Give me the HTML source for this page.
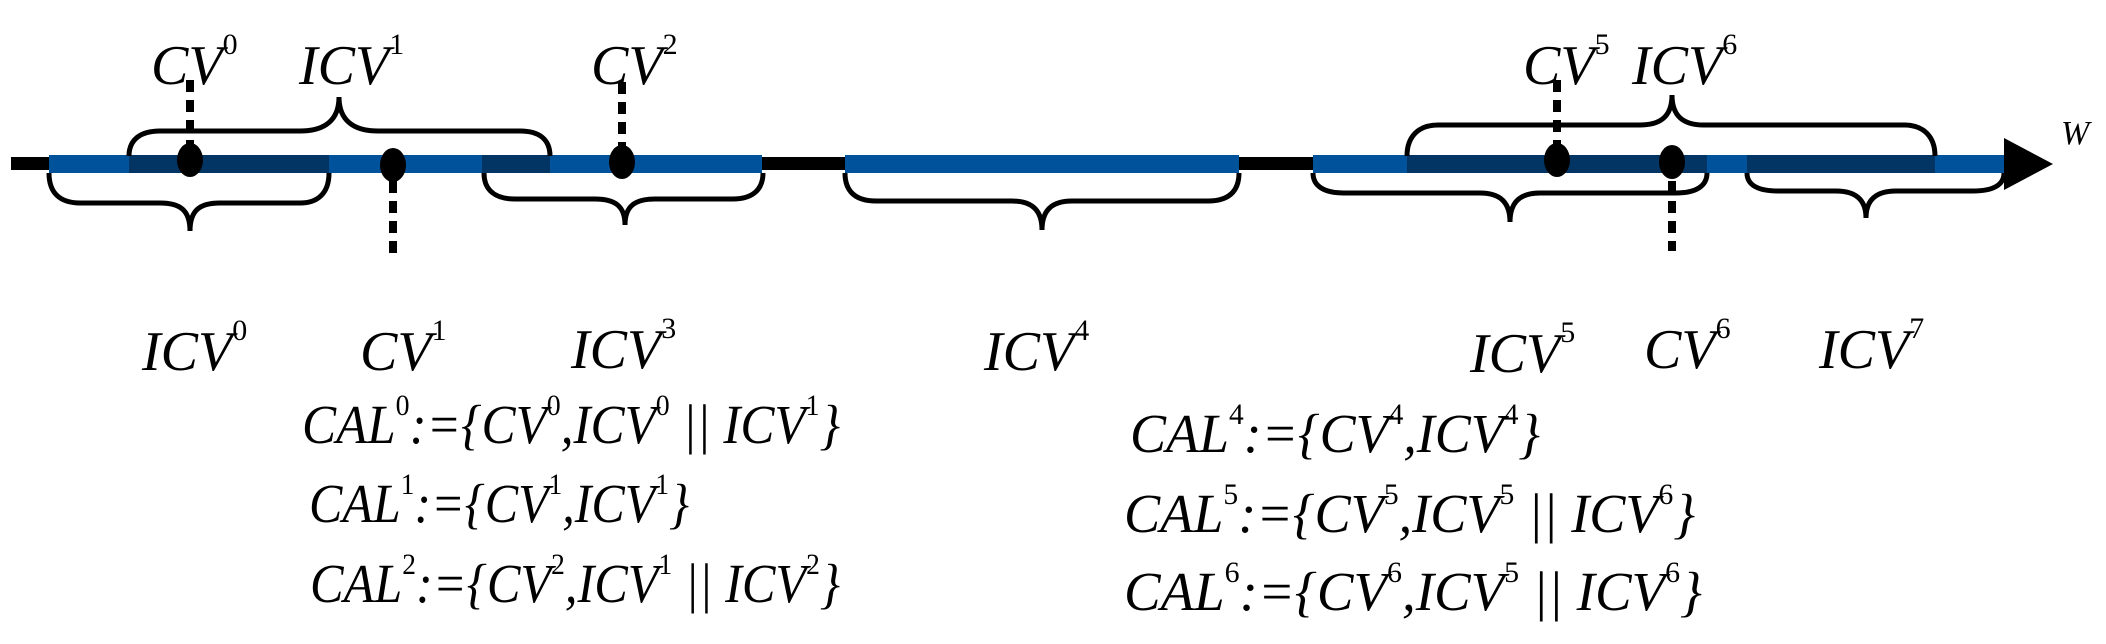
<!DOCTYPE html>
<html><head><style>html,body{margin:0;padding:0;background:#fff;}svg{display:block}tspan.s{font-style:normal}</style></head>
<body>
<svg width="2106" height="644" viewBox="0 0 2106 644" xmlns="http://www.w3.org/2000/svg" font-family="'Liberation Serif', serif" font-style="italic">
<rect x="11" y="157" width="2000" height="13" fill="#000"/>
<polygon points="2004,138 2053,164 2004,190" fill="#000"/>
<rect x="49" y="155" width="713" height="18" fill="#00529b"/>
<rect x="845" y="155" width="394" height="18" fill="#00529b"/>
<rect x="1313" y="155" width="691" height="18" fill="#00529b"/>
<rect x="129" y="155" width="200" height="18" fill="#023563"/>
<rect x="482" y="155" width="68" height="18" fill="#023563"/>
<rect x="1407" y="155" width="300" height="18" fill="#023563"/>
<rect x="1747" y="155" width="188" height="18" fill="#023563"/>
<g stroke="#000" stroke-width="8" stroke-dasharray="12,8">
<line x1="190" y1="80" x2="190" y2="145"/>
<line x1="393" y1="181" x2="393" y2="253"/>
<line x1="622" y1="82" x2="622" y2="148"/>
<line x1="1557" y1="80" x2="1557" y2="145"/>
<line x1="1672" y1="181" x2="1672" y2="251"/>
</g>
<g fill="#000">
<ellipse cx="190" cy="160" rx="13" ry="17"/>
<ellipse cx="393" cy="165" rx="13" ry="17"/>
<ellipse cx="622" cy="162" rx="13" ry="17"/>
<ellipse cx="1557" cy="160" rx="13" ry="17"/>
<ellipse cx="1672" cy="162" rx="13" ry="17"/>
</g>
<g fill="none" stroke="#000" stroke-width="5">
<path d="M129,156 C129,140 140,131 160,131 L300,131 C325,131 339,120 339,97 C339,120 353,131 378,131 L520,131 C540,131 550,140 550,156"/>
<path d="M49,173 C49,193 60,203 80,203 L160,203 C180,203 190,210 190,231 C190,210 200,203 220,203 L300,203 C318,203 329,193 329,173"/>
<path d="M484,173 C484,190 495,199 515,199 L595,199 C615,199 625,206 625,225 C625,206 635,199 655,199 L733,199 C752,199 763,190 763,173"/>
<path d="M845,173 C845,192 856,201 876,201 L1012,201 C1032,201 1042,210 1042,230 C1042,210 1052,201 1072,201 L1208,201 C1228,201 1239,192 1239,173"/>
<path d="M1313,173 C1313,186 1324,193 1344,193 L1480,193 C1500,193 1510,202 1510,222 C1510,202 1520,193 1540,193 L1676,193 C1696,193 1707,186 1707,173"/>
<path d="M1747,173 C1747,185 1758,191 1778,191 L1836,191 C1856,191 1866,200 1866,218 C1866,200 1876,191 1896,191 L1973,191 C1993,191 2004,185 2004,173"/>
<path d="M1407,156 C1407,137 1418,125 1438,125 L1640,125 C1662,125 1672,115 1672,95 C1672,115 1682,125 1704,125 L1904,125 C1924,125 1935,137 1935,156"/>
</g>
<g font-size="56" fill="#000">
<text x="151" y="84">CV<tspan class="s" font-size="30" dy="-30">0</tspan></text>
<text x="299" y="84">ICV<tspan class="s" font-size="30" dy="-30">1</tspan></text>
<text x="591" y="84">CV<tspan class="s" font-size="30" dy="-30">2</tspan></text>
<text x="1523" y="84">CV<tspan class="s" font-size="30" dy="-30">5</tspan></text>
<text x="1632" y="84">ICV<tspan class="s" font-size="30" dy="-30">6</tspan></text>
<text x="142" y="370">ICV<tspan class="s" font-size="30" dy="-30">0</tspan></text>
<text x="360" y="370">CV<tspan class="s" font-size="30" dy="-30">1</tspan></text>
<text x="571" y="368">ICV<tspan class="s" font-size="30" dy="-30">3</tspan></text>
<text x="984" y="370">ICV<tspan class="s" font-size="30" dy="-30">4</tspan></text>
<text x="1470" y="372">ICV<tspan class="s" font-size="30" dy="-30">5</tspan></text>
<text x="1644" y="368">CV<tspan class="s" font-size="30" dy="-30">6</tspan></text>
<text x="1819" y="368">ICV<tspan class="s" font-size="30" dy="-30">7</tspan></text>
<text x="2061" y="144" font-size="34">W</text>
</g>
<g font-size="55" fill="#000">
<text x="302" y="443" textLength="538" lengthAdjust="spacingAndGlyphs">CAL<tspan class="s" font-size="30" dy="-28">0</tspan><tspan dy="28">:={CV</tspan><tspan class="s" font-size="30" dy="-28">0</tspan><tspan dy="28">,ICV</tspan><tspan class="s" font-size="30" dy="-28">0</tspan><tspan dy="28"> || ICV</tspan><tspan class="s" font-size="30" dy="-28">1</tspan><tspan dy="28">}</tspan></text>
<text x="309" y="522" textLength="380" lengthAdjust="spacingAndGlyphs">CAL<tspan class="s" font-size="30" dy="-28">1</tspan><tspan dy="28">:={CV</tspan><tspan class="s" font-size="30" dy="-28">1</tspan><tspan dy="28">,ICV</tspan><tspan class="s" font-size="30" dy="-28">1</tspan><tspan dy="28">}</tspan></text>
<text x="310" y="602" textLength="530" lengthAdjust="spacingAndGlyphs">CAL<tspan class="s" font-size="30" dy="-28">2</tspan><tspan dy="28">:={CV</tspan><tspan class="s" font-size="30" dy="-28">2</tspan><tspan dy="28">,ICV</tspan><tspan class="s" font-size="30" dy="-28">1</tspan><tspan dy="28"> || ICV</tspan><tspan class="s" font-size="30" dy="-28">2</tspan><tspan dy="28">}</tspan></text>
<text x="1130" y="452" textLength="410" lengthAdjust="spacingAndGlyphs">CAL<tspan class="s" font-size="30" dy="-28">4</tspan><tspan dy="28">:={CV</tspan><tspan class="s" font-size="30" dy="-28">4</tspan><tspan dy="28">,ICV</tspan><tspan class="s" font-size="30" dy="-28">4</tspan><tspan dy="28">}</tspan></text>
<text x="1124" y="532" textLength="571" lengthAdjust="spacingAndGlyphs">CAL<tspan class="s" font-size="30" dy="-28">5</tspan><tspan dy="28">:={CV</tspan><tspan class="s" font-size="30" dy="-28">5</tspan><tspan dy="28">,ICV</tspan><tspan class="s" font-size="30" dy="-28">5</tspan><tspan dy="28"> || ICV</tspan><tspan class="s" font-size="30" dy="-28">6</tspan><tspan dy="28">}</tspan></text>
<text x="1124" y="610" textLength="578" lengthAdjust="spacingAndGlyphs">CAL<tspan class="s" font-size="30" dy="-28">6</tspan><tspan dy="28">:={CV</tspan><tspan class="s" font-size="30" dy="-28">6</tspan><tspan dy="28">,ICV</tspan><tspan class="s" font-size="30" dy="-28">5</tspan><tspan dy="28"> || ICV</tspan><tspan class="s" font-size="30" dy="-28">6</tspan><tspan dy="28">}</tspan></text>
</g>
</svg>
</body></html>
